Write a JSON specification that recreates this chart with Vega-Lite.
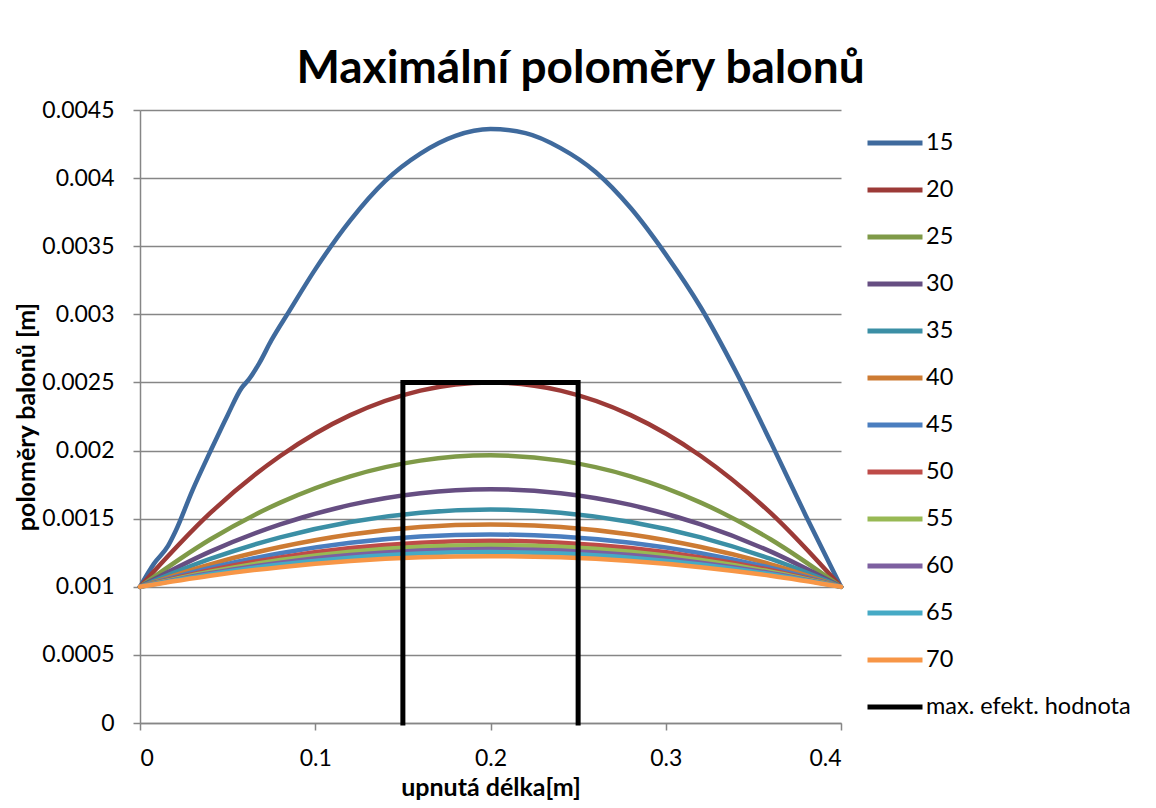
{
  "$schema": "https://vega.github.io/schema/vega-lite/v6.json",
  "width": 701,
  "height": 613,
  "autosize": {"type": "none"},
  "padding": {"left": 140, "top": 110, "right": 315, "bottom": 85},
  "background": "white",
  "title": {"text": "Maximální poloměry balonů", "font": "Lato", "fontSize": 46, "fontWeight": "bold", "color": "black", "anchor": "middle", "frame": "group", "dx": 90, "dy": 64, "offset": 24, "baseline": "bottom"},
  "datasets": {
    "curves": [
      {"s": "15", "x": 0, "y": 0.001},
      {"s": "15", "x": 0.008, "y": 0.00117},
      {"s": "15", "x": 0.016, "y": 0.0013},
      {"s": "15", "x": 0.02, "y": 0.0014},
      {"s": "15", "x": 0.03, "y": 0.00171},
      {"s": "15", "x": 0.04, "y": 0.00199},
      {"s": "15", "x": 0.05, "y": 0.00226},
      {"s": "15", "x": 0.058, "y": 0.00246},
      {"s": "15", "x": 0.062, "y": 0.00252},
      {"s": "15", "x": 0.068, "y": 0.00264},
      {"s": "15", "x": 0.075, "y": 0.00281},
      {"s": "15", "x": 0.085, "y": 0.00302},
      {"s": "15", "x": 0.1, "y": 0.00333},
      {"s": "15", "x": 0.12, "y": 0.00369},
      {"s": "15", "x": 0.14, "y": 0.00398},
      {"s": "15", "x": 0.16, "y": 0.00418},
      {"s": "15", "x": 0.18, "y": 0.00431},
      {"s": "15", "x": 0.2, "y": 0.00436},
      {"s": "15", "x": 0.22, "y": 0.00433},
      {"s": "15", "x": 0.24, "y": 0.00422},
      {"s": "15", "x": 0.26, "y": 0.004045},
      {"s": "15", "x": 0.28, "y": 0.00378},
      {"s": "15", "x": 0.3, "y": 0.00344},
      {"s": "15", "x": 0.32, "y": 0.00305},
      {"s": "15", "x": 0.34, "y": 0.00258},
      {"s": "15", "x": 0.36, "y": 0.00206},
      {"s": "15", "x": 0.38, "y": 0.00152},
      {"s": "15", "x": 0.4, "y": 0.001},

      {"s": "20", "x": 0, "y": 0.001},
      {"s": "20", "x": 0.04, "y": 0.00154},
      {"s": "20", "x": 0.08, "y": 0.00196},
      {"s": "20", "x": 0.12, "y": 0.00226},
      {"s": "20", "x": 0.16, "y": 0.00244},
      {"s": "20", "x": 0.2, "y": 0.0025},
      {"s": "20", "x": 0.24, "y": 0.00244},
      {"s": "20", "x": 0.28, "y": 0.00226},
      {"s": "20", "x": 0.32, "y": 0.00196},
      {"s": "20", "x": 0.36, "y": 0.00154},
      {"s": "20", "x": 0.4, "y": 0.001},

      {"s": "25", "x": 0, "y": 0.001},
      {"s": "25", "x": 0.04, "y": 0.001347},
      {"s": "25", "x": 0.08, "y": 0.001618},
      {"s": "25", "x": 0.12, "y": 0.001811},
      {"s": "25", "x": 0.16, "y": 0.001926},
      {"s": "25", "x": 0.2, "y": 0.001965},
      {"s": "25", "x": 0.24, "y": 0.001926},
      {"s": "25", "x": 0.28, "y": 0.001811},
      {"s": "25", "x": 0.32, "y": 0.001618},
      {"s": "25", "x": 0.36, "y": 0.001347},
      {"s": "25", "x": 0.4, "y": 0.001},

      {"s": "30", "x": 0, "y": 0.001},
      {"s": "30", "x": 0.04, "y": 0.001258},
      {"s": "30", "x": 0.08, "y": 0.001458},
      {"s": "30", "x": 0.12, "y": 0.001601},
      {"s": "30", "x": 0.16, "y": 0.001687},
      {"s": "30", "x": 0.2, "y": 0.001716},
      {"s": "30", "x": 0.24, "y": 0.001687},
      {"s": "30", "x": 0.28, "y": 0.001601},
      {"s": "30", "x": 0.32, "y": 0.001458},
      {"s": "30", "x": 0.36, "y": 0.001258},
      {"s": "30", "x": 0.4, "y": 0.001},

      {"s": "35", "x": 0, "y": 0.001},
      {"s": "35", "x": 0.04, "y": 0.001204},
      {"s": "35", "x": 0.08, "y": 0.001363},
      {"s": "35", "x": 0.12, "y": 0.001476},
      {"s": "35", "x": 0.16, "y": 0.001544},
      {"s": "35", "x": 0.2, "y": 0.001567},
      {"s": "35", "x": 0.24, "y": 0.001544},
      {"s": "35", "x": 0.28, "y": 0.001476},
      {"s": "35", "x": 0.32, "y": 0.001363},
      {"s": "35", "x": 0.36, "y": 0.001204},
      {"s": "35", "x": 0.4, "y": 0.001},

      {"s": "40", "x": 0, "y": 0.001},
      {"s": "40", "x": 0.04, "y": 0.001165},
      {"s": "40", "x": 0.08, "y": 0.001292},
      {"s": "40", "x": 0.12, "y": 0.001384},
      {"s": "40", "x": 0.16, "y": 0.001439},
      {"s": "40", "x": 0.2, "y": 0.001457},
      {"s": "40", "x": 0.24, "y": 0.001439},
      {"s": "40", "x": 0.28, "y": 0.001384},
      {"s": "40", "x": 0.32, "y": 0.001292},
      {"s": "40", "x": 0.36, "y": 0.001165},
      {"s": "40", "x": 0.4, "y": 0.001},

      {"s": "45", "x": 0, "y": 0.001},
      {"s": "45", "x": 0.04, "y": 0.001138},
      {"s": "45", "x": 0.08, "y": 0.001246},
      {"s": "45", "x": 0.12, "y": 0.001323},
      {"s": "45", "x": 0.16, "y": 0.001369},
      {"s": "45", "x": 0.2, "y": 0.001384},
      {"s": "45", "x": 0.24, "y": 0.001369},
      {"s": "45", "x": 0.28, "y": 0.001323},
      {"s": "45", "x": 0.32, "y": 0.001246},
      {"s": "45", "x": 0.36, "y": 0.001138},
      {"s": "45", "x": 0.4, "y": 0.001},

      {"s": "50", "x": 0, "y": 0.001},
      {"s": "50", "x": 0.04, "y": 0.001122},
      {"s": "50", "x": 0.08, "y": 0.001216},
      {"s": "50", "x": 0.12, "y": 0.001284},
      {"s": "50", "x": 0.16, "y": 0.001324},
      {"s": "50", "x": 0.2, "y": 0.001338},
      {"s": "50", "x": 0.24, "y": 0.001324},
      {"s": "50", "x": 0.28, "y": 0.001284},
      {"s": "50", "x": 0.32, "y": 0.001216},
      {"s": "50", "x": 0.36, "y": 0.001122},
      {"s": "50", "x": 0.4, "y": 0.001},

      {"s": "55", "x": 0, "y": 0.001},
      {"s": "55", "x": 0.04, "y": 0.00111},
      {"s": "55", "x": 0.08, "y": 0.001196},
      {"s": "55", "x": 0.12, "y": 0.001257},
      {"s": "55", "x": 0.16, "y": 0.001294},
      {"s": "55", "x": 0.2, "y": 0.001306},
      {"s": "55", "x": 0.24, "y": 0.001294},
      {"s": "55", "x": 0.28, "y": 0.001257},
      {"s": "55", "x": 0.32, "y": 0.001196},
      {"s": "55", "x": 0.36, "y": 0.00111},
      {"s": "55", "x": 0.4, "y": 0.001},

      {"s": "60", "x": 0, "y": 0.001},
      {"s": "60", "x": 0.04, "y": 0.0011},
      {"s": "60", "x": 0.08, "y": 0.001177},
      {"s": "60", "x": 0.12, "y": 0.001233},
      {"s": "60", "x": 0.16, "y": 0.001266},
      {"s": "60", "x": 0.2, "y": 0.001277},
      {"s": "60", "x": 0.24, "y": 0.001266},
      {"s": "60", "x": 0.28, "y": 0.001233},
      {"s": "60", "x": 0.32, "y": 0.001177},
      {"s": "60", "x": 0.36, "y": 0.0011},
      {"s": "60", "x": 0.4, "y": 0.001},

      {"s": "65", "x": 0, "y": 0.001},
      {"s": "65", "x": 0.04, "y": 0.001092},
      {"s": "65", "x": 0.08, "y": 0.001163},
      {"s": "65", "x": 0.12, "y": 0.001214},
      {"s": "65", "x": 0.16, "y": 0.001245},
      {"s": "65", "x": 0.2, "y": 0.001255},
      {"s": "65", "x": 0.24, "y": 0.001245},
      {"s": "65", "x": 0.28, "y": 0.001214},
      {"s": "65", "x": 0.32, "y": 0.001163},
      {"s": "65", "x": 0.36, "y": 0.001092},
      {"s": "65", "x": 0.4, "y": 0.001},

      {"s": "70", "x": 0, "y": 0.001},
      {"s": "70", "x": 0.04, "y": 0.001081},
      {"s": "70", "x": 0.08, "y": 0.001144},
      {"s": "70", "x": 0.12, "y": 0.001189},
      {"s": "70", "x": 0.16, "y": 0.001216},
      {"s": "70", "x": 0.2, "y": 0.001225},
      {"s": "70", "x": 0.24, "y": 0.001216},
      {"s": "70", "x": 0.28, "y": 0.001189},
      {"s": "70", "x": 0.32, "y": 0.001144},
      {"s": "70", "x": 0.36, "y": 0.001081},
      {"s": "70", "x": 0.4, "y": 0.001}
    ],
    "box": [
      {"s": "max. efekt. hodnota", "o": 1, "x": 0.15, "y": 0},
      {"s": "max. efekt. hodnota", "o": 2, "x": 0.15, "y": 0.0025},
      {"s": "max. efekt. hodnota", "o": 3, "x": 0.25, "y": 0.0025},
      {"s": "max. efekt. hodnota", "o": 4, "x": 0.25, "y": 0}
    ]
  },
  "encoding": {
    "x": {
      "field": "x", "type": "quantitative",
      "scale": {"domain": [0, 0.4], "nice": false, "zero": false},
      "axis": {"values": [0, 0.1, 0.2, 0.3, 0.4], "format": "~g", "grid": false, "title": "upnutá délka[m]", "labelPadding": 17, "titlePadding": 5}
    },
    "y": {
      "field": "y", "type": "quantitative",
      "scale": {"domain": [0, 0.0045], "nice": false},
      "axis": {"values": [0, 0.0005, 0.001, 0.0015, 0.002, 0.0025, 0.003, 0.0035, 0.004, 0.0045], "format": "~g", "grid": true, "title": "poloměry balonů [m]", "labelPadding": 19, "titlePadding": 2}
    },
    "color": {
      "field": "s", "type": "nominal",
      "scale": {
        "domain": ["15", "20", "25", "30", "35", "40", "45", "50", "55", "60", "65", "70", "max. efekt. hodnota"],
        "range": ["#3F6A9D", "#9C3A37", "#7F9A48", "#664E82", "#3B8FA5", "#CD7B33", "#4A7EBF", "#BE4B48", "#98B954", "#7D60A0", "#46AAC5", "#F79646", "#000000"]
      },
      "legend": {
        "title": null, "orient": "none", "legendX": 725, "legendY": 3,
        "symbolType": "stroke", "symbolSize": 3025, "symbolStrokeWidth": 5,
        "labelFont": "Lato", "labelFontSize": 23.5, "labelColor": "black", "labelOffset": 1, "labelLimit": 400,
        "rowPadding": 5
      }
    }
  },
  "layer": [
    {
      "data": {"name": "curves"},
      "mark": {"type": "line", "interpolate": "monotone", "strokeWidth": 4.5, "strokeCap": "round"}
    },
    {
      "data": {"name": "box"},
      "mark": {"type": "line", "strokeWidth": 5, "strokeCap": "square"},
      "encoding": {"order": {"field": "o", "type": "quantitative"}}
    }
  ],
  "config": {
    "view": {"stroke": null},
    "font": "Lato",
    "axis": {
      "labelFont": "Lato", "labelFontSize": 23, "labelColor": "black",
      "titleFont": "Lato", "titleFontSize": 25, "titleFontWeight": "bold", "titleColor": "black",
      "domainColor": "#868686", "domainWidth": 1.5,
      "tickColor": "#868686", "tickWidth": 1.5, "tickSize": 7,
      "gridColor": "#868686", "gridWidth": 1.5
    }
  }
}
